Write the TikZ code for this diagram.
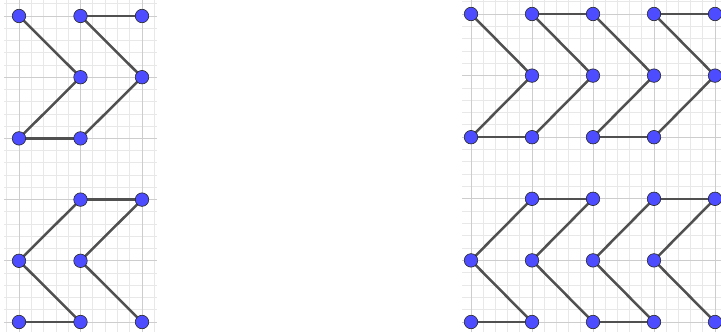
\documentclass[tikz,border=0pt]{standalone}
\usetikzlibrary{calc}
\definecolor{gminor}{HTML}{E8E8E8}
\definecolor{gmajor}{HTML}{CDCDCD}
\definecolor{edgecol}{HTML}{505050}
\definecolor{dotcol}{HTML}{4D4DFF}
\pgfdeclarelayer{gridlayer}
\pgfdeclarelayer{edgelayer}
\pgfsetlayers{gridlayer,edgelayer,main}
\tikzset{
  minorline/.style={gminor, line width=0.8pt},
  majorline/.style={gmajor, line width=1pt},
  seg/.style={edgecol, line width=2.5pt},
  dot/.style={circle, fill=dotcol, draw=black!85, line width=0.6pt, minimum size=13.5pt, inner sep=0pt}
}
\begin{document}
\begin{tikzpicture}[x=1pt, y=-1pt]
\useasboundingbox (0,0) rectangle (721,332);
\clip (0,0) rectangle (721,332);
% ---------- grids ----------
\begin{pgfonlayer}{gridlayer}
  % left panel
  \foreach \k in {-1,...,11} {
    \pgfmathsetmacro\xx{19+12.3*\k}
    \draw[minorline] (\xx,0) -- (\xx,332);
  }
  \foreach \k in {-1,...,26} {
    \pgfmathsetmacro\yy{16+12.24*\k}
    \draw[minorline] (4,\yy) -- (157,\yy);
  }
  \foreach \c in {0,1,2} {
    \pgfmathsetmacro\xx{19+61.5*\c}
    \draw[majorline] (\xx,0) -- (\xx,332);
  }
  \foreach \r in {0,...,5} {
    \pgfmathsetmacro\yy{16+61.2*\r}
    \draw[majorline] (4,\yy) -- (157,\yy);
  }
  % right panel
  \foreach \k in {0,...,21} {
    \pgfmathsetmacro\xx{471+12.2*\k}
    \draw[minorline] (\xx,0) -- (\xx,332);
  }
  \foreach \k in {-1,...,26} {
    \pgfmathsetmacro\yy{14+12.32*\k}
    \draw[minorline] (462,\yy) -- (721,\yy);
  }
  \foreach \c in {0,...,4} {
    \pgfmathsetmacro\xx{471+61*\c}
    \draw[majorline] (\xx,0) -- (\xx,332);
  }
  \foreach \r in {0,...,5} {
    \pgfmathsetmacro\yy{14+61.6*\r}
    \draw[majorline] (462,\yy) -- (721,\yy);
  }
\end{pgfonlayer}
% ---------- points ----------
% left panel (column, row)
\foreach \c/\r in {0/0,1/0,2/0,1/1,2/1,0/2,1/2, 1/3,2/3,0/4,1/4,0/5,1/5,2/5} {
  \node[dot] (L\c\r) at ({19+61.5*\c},{16+61.2*\r}) {};
}
% right panel (column, row)
\foreach \c/\r in {0/0,1/0,2/0,3/0,4/0, 1/1,2/1,3/1,4/1, 0/2,1/2,2/2,3/2,
                   1/3,2/3,3/3,4/3, 0/4,1/4,2/4,3/4, 0/5,1/5,2/5,3/5,4/5} {
  \node[dot] (R\c\r) at ({471+61*\c},{14+61.6*\r}) {};
}
% ---------- connectors ----------
\begin{pgfonlayer}{edgelayer}
  % left top
  \foreach \a/\b in {L00/L11, L11/L02, L02/L12, L10/L20, L10/L21, L21/L12}
    \draw[seg] (\a.center) -- (\b.center);
  % left bottom
  \foreach \a/\b in {L13/L23, L13/L04, L04/L15, L05/L15, L23/L14, L14/L25}
    \draw[seg] (\a.center) -- (\b.center);
  % right top
  \foreach \a/\b in {R00/R11, R11/R02, R02/R12, R10/R20, R10/R21, R21/R12,
                     R20/R31, R31/R22, R22/R32, R30/R40, R30/R41, R41/R32}
    \draw[seg] (\a.center) -- (\b.center);
  % right bottom
  \foreach \a/\b in {R13/R23, R13/R04, R04/R15, R05/R15, R23/R14, R14/R25,
                     R33/R24, R24/R35, R25/R35, R33/R43, R43/R34, R34/R45}
    \draw[seg] (\a.center) -- (\b.center);
\end{pgfonlayer}
\end{tikzpicture}
\end{document}
